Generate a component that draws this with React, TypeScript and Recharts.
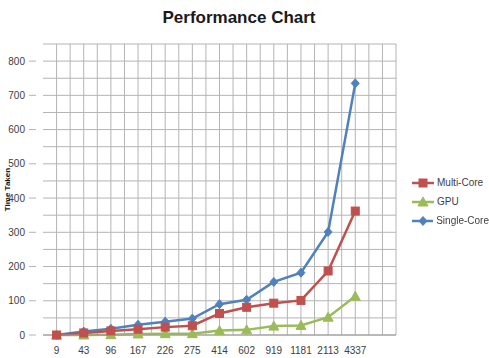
import { LineChart, Line, XAxis, YAxis, CartesianGrid, Legend, Label } from "recharts";

const CATEGORIES = ["9", "43", "96", "167", "226", "275", "414", "602", "919", "1181", "2113", "4337", ""];
const MULTI_CORE = [0, 6, 12, 17, 23, 27, 63, 81, 93, 101, 187, 362, null];
const GPU = [0, 0, 1, 3, 4, 4, 13, 15, 26, 28, 52, 113, null];
const SINGLE_CORE = [0, 10, 18, 30, 39, 48, 90, 103, 155, 182, 301, 735, null];
const Y_TICKS = [0, 50, 100, 150, 200, 250, 300, 350, 400, 450, 500, 550, 600, 650, 700, 750, 800, 850];

const RED = "#c0504d";
const GREEN = "#9bbb59";
const BLUE = "#4f81bd";
const GRID = "#b4b4b4";
const TEXT = "#404040";
const FONT = "Liberation Sans, Arial, sans-serif";

const data = CATEGORIES.map((c, i) => ({
  name: c,
  multi: MULTI_CORE[i],
  gpu: GPU[i],
  single: SINGLE_CORE[i],
}));

type Shape = "square" | "triangle" | "diamond";

function marker(shape: Shape, cx: number, cy: number, color: string, key?: string) {
  if (shape === "square") {
    return <rect key={key} x={cx - 4} y={cy - 4} width={8} height={8} fill={color} stroke={color} />;
  }
  if (shape === "triangle") {
    return (
      <polygon key={key} points={`${cx},${cy - 5} ${cx + 5},${cy + 4} ${cx - 5},${cy + 4}`} fill={color} stroke={color} />
    );
  }
  return (
    <polygon key={key} points={`${cx},${cy - 4.5} ${cx + 4},${cy} ${cx},${cy + 4.5} ${cx - 4},${cy}`} fill={color} stroke={color} />
  );
}

function makeDot(shape: Shape, color: string) {
  return (props: any) => {
    const { cx, cy, index } = props;
    if (cx == null || cy == null || props.value == null) return <g key={`e-${shape}-${index}`} />;
    return marker(shape, cx, cy, color, `${shape}-${index}`);
  };
}

const SERIES: { key: string; name: string; color: string; shape: Shape }[] = [
  { key: "multi", name: "Multi-Core", color: RED, shape: "square" },
  { key: "gpu", name: "GPU", color: GREEN, shape: "triangle" },
  { key: "single", name: "Single-Core", color: BLUE, shape: "diamond" },
];

function LegendBox() {
  return (
    <div style={{ fontFamily: FONT, fontSize: 10, color: TEXT, whiteSpace: "nowrap" }}>
      {SERIES.map((s) => (
        <div key={s.key} style={{ display: "flex", alignItems: "center", height: 19 }}>
          <svg width={22} height={10} style={{ marginRight: 3 }}>
            <line x1={0} y1={5} x2={22} y2={5} stroke={s.color} strokeWidth={2.5} />
            {marker(s.shape, 11, 5, s.color)}
          </svg>
          <span>{s.name}</span>
        </div>
      ))}
    </div>
  );
}

function YTick(props: any) {
  const { x, y, payload } = props;
  if (payload.value % 100 !== 0) return <g />;
  return (
    <g>
      <line x1={x - 6} y1={y} x2={x + 1} y2={y} stroke={GRID} />
      <text x={x - 10} y={y} dy={3.5} textAnchor="end" fontSize={10} fill={TEXT} fontFamily={FONT}>
        {payload.value}
      </text>
    </g>
  );
}

export default function App() {
  return (
    <div style={{ position: "fixed", left: 0, top: 0, width: 489, height: 358, background: "#fff" }}>
      <div
        style={{
          position: "absolute",
          left: 0,
          top: 8,
          width: 478,
          textAlign: "center",
          fontFamily: FONT,
          fontWeight: "bold",
          fontSize: 17,
          color: "#1a1a1a",
        }}
      >
        Performance Chart
      </div>
      <LineChart width={489} height={358} data={data} margin={{ top: 44, right: 93, bottom: 0, left: 0 }}>
        <CartesianGrid
          stroke={GRID}
          verticalCoordinatesGenerator={({ offset }: any) =>
            Array.from({ length: 26 }, (_, i) => offset.left + ((i + 1) * offset.width) / 26)
          }
        />
        <XAxis
          dataKey="name"
          scale="band"
          height={23}
          tickLine={false}
          axisLine={{ stroke: "#999" }}
          tick={{ fontSize: 10, fill: TEXT, fontFamily: FONT }}
          tickMargin={6}
          interval={0}
        />
        <YAxis
          width={43}
          domain={[0, 850]}
          ticks={Y_TICKS}
          interval={0}
          axisLine={false}
          tickLine={false}
          tick={<YTick />}
        >
          <Label
            content={({ viewBox }: any) => {
              const cx = 10;
              const cy = viewBox.y + viewBox.height / 2;
              return (
                <text
                  x={cx}
                  y={cy}
                  transform={`rotate(-90 ${cx} ${cy})`}
                  textAnchor="middle"
                  fontSize={8}
                  fontWeight="bold"
                  fill="#1a1a1a"
                  fontFamily={FONT}
                >
                  Time Taken
                </text>
              );
            }}
          />
        </YAxis>
        <Legend
          layout="horizontal"
          align="center"
          verticalAlign="middle"
          wrapperStyle={{ left: 412, top: 173, width: 77 }}
          content={() => <LegendBox />}
        />
        {SERIES.slice().reverse().map((s) => (
          <Line
            key={s.key}
            dataKey={s.key}
            name={s.name}
            stroke={s.color}
            strokeWidth={2.5}
            dot={makeDot(s.shape, s.color)}
            activeDot={false}
            isAnimationActive={false}
            type="linear"
          />
        ))}
      </LineChart>
    </div>
  );
}
